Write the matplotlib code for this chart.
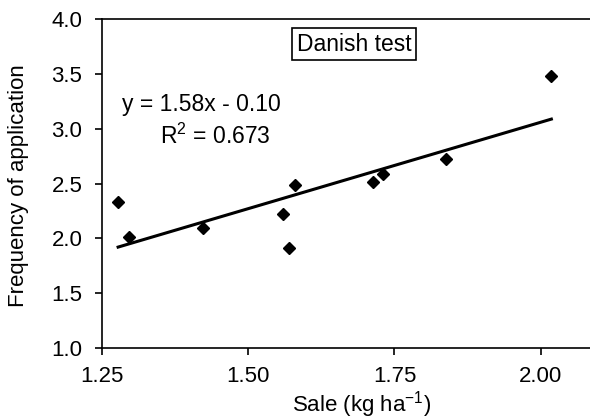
import numpy as np
import matplotlib
matplotlib.use('Agg')
import matplotlib.pyplot as plt

# Danish test: sale vs frequency of application
sale = [1.278, 1.297, 1.423, 1.559, 1.570, 1.580, 1.714, 1.731, 1.838, 2.018]
freq = [2.335, 2.009, 2.091, 2.218, 1.911, 2.490, 2.517, 2.588, 2.725, 3.481]
slope = 1.58
intercept = -0.10
r2 = 0.673
x_ticks = [1.25, 1.50, 1.75, 2.00]
y_ticks = [1.0, 1.5, 2.0, 2.5, 3.0, 3.5, 4.0]

plt.rcParams['font.family'] = ['Liberation Sans', 'DejaVu Sans']
plt.rcParams['mathtext.fontset'] = 'custom'
plt.rcParams['mathtext.rm'] = 'Liberation Sans'

fig = plt.figure(figsize=(5.9, 4.2), dpi=100)
ax = fig.add_axes([0.1724, 0.1721, 0.8276, 0.7819])

ax.plot(sale, freq, 'D', color='black', markersize=6.5)
fit_x = np.array([min(sale), max(sale)])
ax.plot(fit_x, slope * fit_x + intercept, color='black', linewidth=2.2)

ax.set_xlim(1.25, 2.084)
ax.set_ylim(1.0, 4.0)
ax.set_xticks(x_ticks)
ax.set_xticklabels([f'{t:.2f}' for t in x_ticks])
ax.set_yticks(y_ticks)
ax.set_yticklabels([f'{t:.1f}' for t in y_ticks])

ax.spines['right'].set_visible(False)
for s in ['top', 'left', 'bottom']:
    ax.spines[s].set_linewidth(1.2)
ax.tick_params(axis='both', direction='out', length=5, width=1.2, labelsize=16)
ax.tick_params(axis='y', pad=9)
ax.tick_params(axis='x', pad=8)

ax.set_xlabel('Sale (kg ha$^{-1}$)', fontsize=16)
ax.xaxis.set_label_coords(0.532, -0.125)
ax.set_ylabel('Frequency of application', fontsize=16)
ax.yaxis.set_label_coords(-0.148, 0.495)

sign = '-' if intercept < 0 else '+'
ax.text(1.284, 3.166, f'y = {slope:.2f}x {sign} {abs(intercept):.2f}', fontsize=16.5,
        va='baseline', ha='left')
ax.text(1.350, 2.862, f'R$^2$ = {r2:.3f}', fontsize=16.5, va='baseline', ha='left')
ax.text(1.6815, 3.773, 'Danish test', fontsize=16.5, ha='center', va='center',
        bbox=dict(boxstyle='square,pad=0.2', facecolor='white', edgecolor='black', linewidth=1.2))

fig.savefig('out.png', dpi=100)
